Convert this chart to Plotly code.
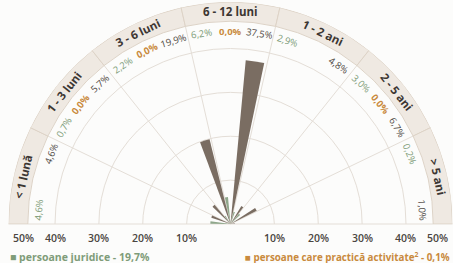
import math
import plotly.graph_objects as go

# ---- data ----
categories = ["< 1 lună", "1 - 3 luni", "3 - 6 luni", "6 - 12 luni", "1 - 2 ani", "2 - 5 ani", "> 5 ani"]
juridice = [4.6, 0.7, 2.2, 6.2, 2.9, 3.0, 0.2]          # green
activitate = [None, 0.0, 0.0, 0.0, None, 0.0, None]      # orange
fizice = [4.6, 5.7, 19.9, 37.5, 4.8, 6.7, 1.0]           # brown
radial_ticks = [50, 40, 30, 20, 10]
legend_juridice = "persoane juridice - 19,7%"
legend_activitate = "persoane care practică activitate<sup>2</sup> - 0,1%"

# ---- styles ----
GREEN = "#8fa78b"
ORANGE = "#d49a56"
BROWN = "#7a6d62"
GREEN_T = "#7f9c79"
ORANGE_T = "#c98a3d"
DARK_T = "#4f4944"
BAND = "#efe9e2"
BAND_LINE = "#ddd3c7"
GRID = "#e4ded7"
BG = "#fcfcfb"

W, H = 453, 263
n = len(categories)
sector = 180.0 / n
slot = sector / 3.0
centers = [180.0 - (i + 0.5) * sector for i in range(n)]
RMAX = 50.6
BAND_IN = 46.2

CX, CY, RPX = 230.5, 224.0, 222.0
pxu = RPX / RMAX
x0, x1 = (CX - RPX) / W, (CX + RPX) / W
y0, y1 = (H - CY) / H, (H - (CY - RPX)) / H
ymin = -(H - CY) / pxu

fig = go.Figure()

# outer band with category sectors
fig.add_trace(go.Barpolar(
    theta=centers, r=[RMAX - BAND_IN] * n, base=[BAND_IN] * n, width=[sector] * n,
    marker=dict(color=BAND, line=dict(color=BAND_LINE, width=1)),
    hoverinfo="skip", showlegend=False))

series = [(juridice, GREEN, GREEN_T, 1), (activitate, ORANGE, ORANGE_T, 0), (fizice, BROWN, DARK_T, -1)]
for vals, col, tcol, off in series:
    th = [c + off * slot for c, v in zip(centers, vals) if v is not None]
    rv = [v for v in vals if v is not None]
    fig.add_trace(go.Barpolar(
        theta=th, r=rv, width=[slot * 0.76] * len(rv),
        marker=dict(color=col, line=dict(width=0)),
        showlegend=False))

fig.update_layout(
    width=W, height=H, margin=dict(l=0, r=0, t=0, b=0),
    paper_bgcolor=BG, plot_bgcolor=BG, showlegend=False,
    polar=dict(
        domain=dict(x=[x0, x1], y=[y0, y1]),
        sector=[0, 180], hole=0, bgcolor="rgba(0,0,0,0)",
        angularaxis=dict(rotation=0, direction="counterclockwise", thetaunit="degrees",
                         tickmode="array", tickvals=[i * sector for i in range(n + 1)],
                         showticklabels=False, ticks="", showline=False,
                         gridcolor=GRID, gridwidth=1),
        radialaxis=dict(range=[0, RMAX], tickmode="array", tickvals=[10, 20, 30, 40],
                        showticklabels=False, ticks="", showline=False,
                        gridcolor=GRID, gridwidth=1),
    ),
    xaxis=dict(domain=[x0, x1], range=[-RMAX, RMAX], visible=False, fixedrange=True),
    yaxis=dict(domain=[0, y1], range=[ymin, RMAX], visible=False, fixedrange=True),
)
fig.add_trace(go.Scatter(x=[0], y=[0], mode="markers", marker=dict(size=1, opacity=0),
                         hoverinfo="skip", showlegend=False))

def pol(r, th):
    a = math.radians(th)
    return r * math.cos(a), r * math.sin(a)

ann = []
# category labels in band
for c, name in zip(centers, categories):
    x, y = pol((RMAX + BAND_IN) / 2, c)
    ann.append(dict(x=x, y=y, xref="x", yref="y", text=f"<b>{name}</b>", showarrow=False,
                    textangle=90 - c, font=dict(family="Open Sans", size=11.5, color="#3c3632")))

# value labels
def fmt(v):
    return f"{v:.1f}".replace(".", ",") + "%"

for vals, col, tcol, off in series:
    for c, v in zip(centers, vals):
        if v is None:
            continue
        th = c + off * slot
        x, y = pol(43.8, th)
        txt = fmt(v)
        if tcol == ORANGE_T:
            txt = f"<b>{txt}</b>"
        ann.append(dict(x=x, y=y, xref="x", yref="y", text=txt, showarrow=False,
                        textangle=90 - th, font=dict(family="Open Sans", size=9.5, color=tcol)))

# radial tick labels on both sides
ty = -(238 - CY) / pxu
for t in radial_ticks:
    for sgn in (-1, 1):
        anchor = "center"
        xx = sgn * t
        if t == radial_ticks[0]:
            anchor = "left" if sgn < 0 else "right"
        ann.append(dict(x=xx, y=ty, xref="x", yref="y", text=f"{t}%", showarrow=False,
                        xanchor=anchor, yanchor="middle",
                        font=dict(family="Open Sans", size=10.5, color="#4a4541", weight=600)))

# legend rows (partially visible, cut at the bottom edge as in the source)
ann.append(dict(x=8 / W, y=(H - 257) / H, xref="paper", yref="paper", xanchor="left", yanchor="middle",
                text=f"<b>■ {legend_juridice}</b>", showarrow=False,
                font=dict(family="Open Sans", size=10.5, color=GREEN_T)))
ann.append(dict(x=243 / W, y=(H - 257) / H, xref="paper", yref="paper", xanchor="left", yanchor="middle",
                text=f"<b>■ {legend_activitate}</b>", showarrow=False,
                font=dict(family="Open Sans", size=9.8, color=ORANGE_T)))

fig.update_layout(annotations=ann)
fig.write_html("out.html", config={"displayModeBar": False, "staticPlot": True},
               post_script="document.body.style.margin='0';")
